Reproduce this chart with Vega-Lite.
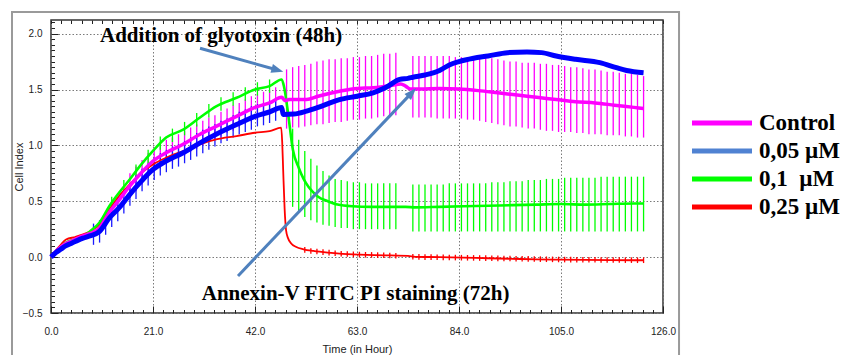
{
"$schema": "https://vega.github.io/schema/vega-lite/v6.json",
"width": 612, "height": 293,
"autosize": {"type": "none"},
"padding": {"left": 51, "top": 20, "right": 191, "bottom": 42},
"background": "white",
"config": {
  "view": {"stroke": "#333", "strokeWidth": 1.5},
  "axis": {"labelFont": "Liberation Sans", "titleFont": "Liberation Sans", "labelColor": "#222", "titleColor": "#222", "titleFontWeight": "normal", "labelFontSize": 10, "titleFontSize": 11, "tickColor": "#222", "tickWidth": 1}
},
"datasets": {
"one": [{}],
"lines": [
{"s":"Control","t":0,"v":0},{"s":"Control","t":1,"v":0.05},{"s":"Control","t":2,"v":0.09},{"s":"Control","t":3,"v":0.12},{"s":"Control","t":4,"v":0.14},{"s":"Control","t":5,"v":0.16},{"s":"Control","t":6.6,"v":0.19},{"s":"Control","t":8,"v":0.21},{"s":"Control","t":10,"v":0.26},{"s":"Control","t":12,"v":0.40},{"s":"Control","t":14,"v":0.51},{"s":"Control","t":16.2,"v":0.635},{"s":"Control","t":18.6,"v":0.755},{"s":"Control","t":21,"v":0.86},{"s":"Control","t":23.7,"v":0.934},{"s":"Control","t":27.2,"v":1.01},{"s":"Control","t":30.6,"v":1.098},{"s":"Control","t":34,"v":1.17},{"s":"Control","t":38.2,"v":1.26},{"s":"Control","t":42,"v":1.34},{"s":"Control","t":45,"v":1.38},{"s":"Control","t":47.5,"v":1.43},{"s":"Control","t":48.2,"v":1.40},{"s":"Control","t":49,"v":1.41},{"s":"Control","t":50,"v":1.41},{"s":"Control","t":52.6,"v":1.41},{"s":"Control","t":55,"v":1.44},{"s":"Control","t":59.4,"v":1.485},{"s":"Control","t":63,"v":1.51},{"s":"Control","t":66.3,"v":1.515},{"s":"Control","t":70,"v":1.535},{"s":"Control","t":72,"v":1.55},{"s":"Control","t":73,"v":1.53},{"s":"Control","t":74,"v":1.505},{"s":"Control","t":76,"v":1.505},{"s":"Control","t":80,"v":1.51},{"s":"Control","t":84,"v":1.505},{"s":"Control","t":88,"v":1.49},{"s":"Control","t":92,"v":1.47},{"s":"Control","t":96,"v":1.45},{"s":"Control","t":100,"v":1.43},{"s":"Control","t":104,"v":1.41},{"s":"Control","t":108,"v":1.39},{"s":"Control","t":112,"v":1.38},{"s":"Control","t":116,"v":1.36},{"s":"Control","t":120,"v":1.34},{"s":"Control","t":122,"v":1.33},
{"s":"0,05 µM","t":0,"v":0},{"s":"0,05 µM","t":1,"v":0.04},{"s":"0,05 µM","t":2,"v":0.07},{"s":"0,05 µM","t":3,"v":0.10},{"s":"0,05 µM","t":4,"v":0.12},{"s":"0,05 µM","t":5,"v":0.14},{"s":"0,05 µM","t":6.6,"v":0.17},{"s":"0,05 µM","t":8,"v":0.19},{"s":"0,05 µM","t":10,"v":0.23},{"s":"0,05 µM","t":12,"v":0.35},{"s":"0,05 µM","t":14,"v":0.44},{"s":"0,05 µM","t":16.2,"v":0.56},{"s":"0,05 µM","t":18.6,"v":0.68},{"s":"0,05 µM","t":21,"v":0.785},{"s":"0,05 µM","t":23.7,"v":0.86},{"s":"0,05 µM","t":27.2,"v":0.934},{"s":"0,05 µM","t":30.6,"v":1.02},{"s":"0,05 µM","t":34,"v":1.10},{"s":"0,05 µM","t":38.2,"v":1.187},{"s":"0,05 µM","t":42,"v":1.26},{"s":"0,05 µM","t":45,"v":1.30},{"s":"0,05 µM","t":47.5,"v":1.34},{"s":"0,05 µM","t":47.8,"v":1.277},{"s":"0,05 µM","t":50,"v":1.28},{"s":"0,05 µM","t":52.6,"v":1.306},{"s":"0,05 µM","t":55,"v":1.34},{"s":"0,05 µM","t":59.4,"v":1.41},{"s":"0,05 µM","t":63,"v":1.44},{"s":"0,05 µM","t":66.3,"v":1.47},{"s":"0,05 µM","t":69,"v":1.52},{"s":"0,05 µM","t":71.8,"v":1.59},{"s":"0,05 µM","t":73.5,"v":1.60},{"s":"0,05 µM","t":74.5,"v":1.61},{"s":"0,05 µM","t":77,"v":1.63},{"s":"0,05 µM","t":80,"v":1.67},{"s":"0,05 µM","t":82,"v":1.72},{"s":"0,05 µM","t":84,"v":1.75},{"s":"0,05 µM","t":87,"v":1.78},{"s":"0,05 µM","t":90,"v":1.80},{"s":"0,05 µM","t":94,"v":1.83},{"s":"0,05 µM","t":98,"v":1.835},{"s":"0,05 µM","t":101,"v":1.83},{"s":"0,05 µM","t":104,"v":1.80},{"s":"0,05 µM","t":108,"v":1.77},{"s":"0,05 µM","t":113,"v":1.74},{"s":"0,05 µM","t":116.4,"v":1.695},{"s":"0,05 µM","t":118.5,"v":1.67},{"s":"0,05 µM","t":122,"v":1.65},
{"s":"0,1 µM","t":0,"v":0},{"s":"0,1 µM","t":1,"v":0.05},{"s":"0,1 µM","t":2,"v":0.09},{"s":"0,1 µM","t":3.1,"v":0.13},{"s":"0,1 µM","t":5,"v":0.16},{"s":"0,1 µM","t":6.6,"v":0.18},{"s":"0,1 µM","t":8,"v":0.23},{"s":"0,1 µM","t":10,"v":0.31},{"s":"0,1 µM","t":12,"v":0.456},{"s":"0,1 µM","t":14,"v":0.576},{"s":"0,1 µM","t":16.2,"v":0.695},{"s":"0,1 µM","t":18.6,"v":0.83},{"s":"0,1 µM","t":21,"v":0.95},{"s":"0,1 µM","t":23.7,"v":1.07},{"s":"0,1 µM","t":27.2,"v":1.14},{"s":"0,1 µM","t":30.6,"v":1.247},{"s":"0,1 µM","t":34,"v":1.35},{"s":"0,1 µM","t":38.2,"v":1.426},{"s":"0,1 µM","t":42,"v":1.50},{"s":"0,1 µM","t":45,"v":1.53},{"s":"0,1 µM","t":47.5,"v":1.59},{"s":"0,1 µM","t":48,"v":1.52},{"s":"0,1 µM","t":48.8,"v":1.29},{"s":"0,1 µM","t":49.8,"v":0.96},{"s":"0,1 µM","t":51,"v":0.80},{"s":"0,1 µM","t":52,"v":0.70},{"s":"0,1 µM","t":53,"v":0.63},{"s":"0,1 µM","t":54,"v":0.58},{"s":"0,1 µM","t":55,"v":0.54},{"s":"0,1 µM","t":57,"v":0.50},{"s":"0,1 µM","t":59,"v":0.47},{"s":"0,1 µM","t":62,"v":0.455},{"s":"0,1 µM","t":66,"v":0.45},{"s":"0,1 µM","t":73,"v":0.45},{"s":"0,1 µM","t":75,"v":0.445},{"s":"0,1 µM","t":80,"v":0.45},{"s":"0,1 µM","t":85,"v":0.455},{"s":"0,1 µM","t":90,"v":0.46},{"s":"0,1 µM","t":95,"v":0.465},{"s":"0,1 µM","t":100,"v":0.47},{"s":"0,1 µM","t":105,"v":0.475},{"s":"0,1 µM","t":110,"v":0.47},{"s":"0,1 µM","t":115,"v":0.475},{"s":"0,1 µM","t":120,"v":0.48},{"s":"0,1 µM","t":122,"v":0.48},
{"s":"0,25 µM","t":0,"v":0},{"s":"0,25 µM","t":1,"v":0.06},{"s":"0,25 µM","t":2,"v":0.11},{"s":"0,25 µM","t":3.1,"v":0.158},{"s":"0,25 µM","t":5,"v":0.18},{"s":"0,25 µM","t":6.6,"v":0.203},{"s":"0,25 µM","t":8,"v":0.23},{"s":"0,25 µM","t":10,"v":0.29},{"s":"0,25 µM","t":12,"v":0.427},{"s":"0,25 µM","t":14,"v":0.546},{"s":"0,25 µM","t":16.2,"v":0.65},{"s":"0,25 µM","t":18.6,"v":0.755},{"s":"0,25 µM","t":21,"v":0.83},{"s":"0,25 µM","t":23.7,"v":0.89},{"s":"0,25 µM","t":27.2,"v":0.95},{"s":"0,25 µM","t":30.6,"v":1.008},{"s":"0,25 µM","t":34,"v":1.053},{"s":"0,25 µM","t":38.2,"v":1.083},{"s":"0,25 µM","t":42,"v":1.113},{"s":"0,25 µM","t":45,"v":1.127},{"s":"0,25 µM","t":47.4,"v":1.158},{"s":"0,25 µM","t":47.6,"v":1.03},{"s":"0,25 µM","t":47.8,"v":0.78},{"s":"0,25 µM","t":48.1,"v":0.43},{"s":"0,25 µM","t":48.4,"v":0.24},{"s":"0,25 µM","t":48.8,"v":0.17},{"s":"0,25 µM","t":49.5,"v":0.12},{"s":"0,25 µM","t":50.5,"v":0.09},{"s":"0,25 µM","t":52,"v":0.07},{"s":"0,25 µM","t":54,"v":0.055},{"s":"0,25 µM","t":57,"v":0.04},{"s":"0,25 µM","t":60,"v":0.03},{"s":"0,25 µM","t":65,"v":0.02},{"s":"0,25 µM","t":70,"v":0.015},{"s":"0,25 µM","t":73.5,"v":0.012},{"s":"0,25 µM","t":75,"v":0.003},{"s":"0,25 µM","t":80,"v":0},{"s":"0,25 µM","t":85,"v":-0.005},{"s":"0,25 µM","t":90,"v":-0.01},{"s":"0,25 µM","t":95,"v":-0.015},{"s":"0,25 µM","t":100,"v":-0.02},{"s":"0,25 µM","t":105,"v":-0.022},{"s":"0,25 µM","t":110,"v":-0.025},{"s":"0,25 µM","t":115,"v":-0.027},{"s":"0,25 µM","t":120,"v":-0.028},{"s":"0,25 µM","t":122,"v":-0.028}
],
"err": [
{"s":"Control","t":16.25,"lo":0.53,"hi":0.75},{"s":"Control","t":17.5,"lo":0.59,"hi":0.81},{"s":"Control","t":18.75,"lo":0.65,"hi":0.87},{"s":"Control","t":20,"lo":0.71,"hi":0.93},{"s":"Control","t":21.25,"lo":0.76,"hi":0.98},{"s":"Control","t":22.5,"lo":0.79,"hi":1.01},{"s":"Control","t":23.75,"lo":0.83,"hi":1.05},{"s":"Control","t":25,"lo":0.85,"hi":1.07},{"s":"Control","t":26.25,"lo":0.88,"hi":1.10},{"s":"Control","t":27.5,"lo":0.91,"hi":1.13},{"s":"Control","t":28.75,"lo":0.94,"hi":1.16},{"s":"Control","t":30,"lo":0.97,"hi":1.19},{"s":"Control","t":31.25,"lo":1.00,"hi":1.22},{"s":"Control","t":32.5,"lo":1.03,"hi":1.25},{"s":"Control","t":33.75,"lo":1.05,"hi":1.27},{"s":"Control","t":35,"lo":1.08,"hi":1.30},{"s":"Control","t":36.25,"lo":1.11,"hi":1.33},{"s":"Control","t":37.5,"lo":1.13,"hi":1.36},{"s":"Control","t":38.75,"lo":1.16,"hi":1.38},{"s":"Control","t":40,"lo":1.19,"hi":1.41},{"s":"Control","t":41.25,"lo":1.21,"hi":1.44},{"s":"Control","t":42.5,"lo":1.23,"hi":1.46},{"s":"Control","t":43.75,"lo":1.25,"hi":1.48},{"s":"Control","t":45,"lo":1.27,"hi":1.49},{"s":"Control","t":46.25,"lo":1.29,"hi":1.52},
{"s":"Control","t":48.5,"lo":1.15,"hi":1.68},{"s":"Control","t":49.75,"lo":1.16,"hi":1.70},{"s":"Control","t":51,"lo":1.16,"hi":1.71},{"s":"Control","t":52.25,"lo":1.17,"hi":1.72},{"s":"Control","t":53.5,"lo":1.18,"hi":1.73},{"s":"Control","t":54.75,"lo":1.19,"hi":1.75},{"s":"Control","t":56,"lo":1.19,"hi":1.76},{"s":"Control","t":57.25,"lo":1.20,"hi":1.77},{"s":"Control","t":58.5,"lo":1.21,"hi":1.77},{"s":"Control","t":59.75,"lo":1.21,"hi":1.78},{"s":"Control","t":61,"lo":1.22,"hi":1.78},{"s":"Control","t":62.25,"lo":1.23,"hi":1.79},{"s":"Control","t":63.5,"lo":1.23,"hi":1.79},{"s":"Control","t":64.75,"lo":1.24,"hi":1.80},{"s":"Control","t":66,"lo":1.24,"hi":1.80},{"s":"Control","t":67.25,"lo":1.25,"hi":1.81},{"s":"Control","t":68.5,"lo":1.26,"hi":1.82},{"s":"Control","t":69.75,"lo":1.26,"hi":1.82},{"s":"Control","t":71,"lo":1.27,"hi":1.83},
{"s":"Control","t":74.5,"lo":1.25,"hi":1.80},{"s":"Control","t":75.75,"lo":1.25,"hi":1.80},{"s":"Control","t":77,"lo":1.25,"hi":1.80},{"s":"Control","t":78.25,"lo":1.25,"hi":1.80},{"s":"Control","t":79.5,"lo":1.24,"hi":1.80},{"s":"Control","t":80.75,"lo":1.24,"hi":1.80},{"s":"Control","t":82,"lo":1.24,"hi":1.80},{"s":"Control","t":83.25,"lo":1.24,"hi":1.79},{"s":"Control","t":84.5,"lo":1.24,"hi":1.79},{"s":"Control","t":85.75,"lo":1.23,"hi":1.79},{"s":"Control","t":87,"lo":1.23,"hi":1.79},{"s":"Control","t":88.25,"lo":1.22,"hi":1.79},{"s":"Control","t":89.5,"lo":1.21,"hi":1.78},{"s":"Control","t":90.75,"lo":1.20,"hi":1.78},{"s":"Control","t":92,"lo":1.19,"hi":1.77},{"s":"Control","t":93.25,"lo":1.18,"hi":1.76},{"s":"Control","t":94.5,"lo":1.17,"hi":1.75},{"s":"Control","t":95.75,"lo":1.17,"hi":1.75},{"s":"Control","t":97,"lo":1.16,"hi":1.74},{"s":"Control","t":98.25,"lo":1.15,"hi":1.74},{"s":"Control","t":99.5,"lo":1.15,"hi":1.74},{"s":"Control","t":100.75,"lo":1.14,"hi":1.73},{"s":"Control","t":102,"lo":1.13,"hi":1.73},{"s":"Control","t":103.25,"lo":1.13,"hi":1.72},{"s":"Control","t":104.5,"lo":1.12,"hi":1.72},{"s":"Control","t":105.75,"lo":1.12,"hi":1.71},{"s":"Control","t":107,"lo":1.12,"hi":1.70},{"s":"Control","t":108.25,"lo":1.11,"hi":1.70},{"s":"Control","t":109.5,"lo":1.11,"hi":1.69},{"s":"Control","t":110.75,"lo":1.10,"hi":1.68},{"s":"Control","t":112,"lo":1.10,"hi":1.68},{"s":"Control","t":113.25,"lo":1.10,"hi":1.67},{"s":"Control","t":114.5,"lo":1.09,"hi":1.66},{"s":"Control","t":115.75,"lo":1.09,"hi":1.66},{"s":"Control","t":117,"lo":1.09,"hi":1.65},{"s":"Control","t":118.25,"lo":1.08,"hi":1.64},{"s":"Control","t":119.5,"lo":1.08,"hi":1.64},{"s":"Control","t":120.75,"lo":1.07,"hi":1.63},{"s":"Control","t":122,"lo":1.07,"hi":1.62},
{"s":"0,05 µM","t":8.75,"lo":0.11,"hi":0.30},{"s":"0,05 µM","t":10,"lo":0.13,"hi":0.33},{"s":"0,05 µM","t":11.25,"lo":0.20,"hi":0.40},{"s":"0,05 µM","t":12.5,"lo":0.27,"hi":0.47},{"s":"0,05 µM","t":13.75,"lo":0.32,"hi":0.53},{"s":"0,05 µM","t":15,"lo":0.39,"hi":0.59},{"s":"0,05 µM","t":16.25,"lo":0.46,"hi":0.66},{"s":"0,05 µM","t":17.5,"lo":0.52,"hi":0.73},{"s":"0,05 µM","t":18.75,"lo":0.59,"hi":0.79},{"s":"0,05 µM","t":20,"lo":0.64,"hi":0.84},{"s":"0,05 µM","t":21.25,"lo":0.69,"hi":0.89},{"s":"0,05 µM","t":22.5,"lo":0.73,"hi":0.93},{"s":"0,05 µM","t":23.75,"lo":0.76,"hi":0.96},{"s":"0,05 µM","t":25,"lo":0.79,"hi":0.99},{"s":"0,05 µM","t":26.25,"lo":0.81,"hi":1.01},{"s":"0,05 µM","t":27.5,"lo":0.84,"hi":1.04},{"s":"0,05 µM","t":28.75,"lo":0.87,"hi":1.07},{"s":"0,05 µM","t":30,"lo":0.90,"hi":1.11},{"s":"0,05 µM","t":31.25,"lo":0.93,"hi":1.14},{"s":"0,05 µM","t":32.5,"lo":0.96,"hi":1.17},{"s":"0,05 µM","t":33.75,"lo":0.99,"hi":1.19},{"s":"0,05 µM","t":35,"lo":1.02,"hi":1.22},{"s":"0,05 µM","t":36.25,"lo":1.04,"hi":1.24},{"s":"0,05 µM","t":37.5,"lo":1.07,"hi":1.27},{"s":"0,05 µM","t":38.75,"lo":1.10,"hi":1.30},{"s":"0,05 µM","t":40,"lo":1.12,"hi":1.32},{"s":"0,05 µM","t":41.25,"lo":1.14,"hi":1.35},{"s":"0,05 µM","t":42.5,"lo":1.17,"hi":1.37},{"s":"0,05 µM","t":43.75,"lo":1.18,"hi":1.38},{"s":"0,05 µM","t":45,"lo":1.20,"hi":1.40},{"s":"0,05 µM","t":46.25,"lo":1.22,"hi":1.42},
{"s":"0,1 µM","t":12.5,"lo":0.42,"hi":0.54},{"s":"0,1 µM","t":15,"lo":0.57,"hi":0.69},{"s":"0,1 µM","t":17.5,"lo":0.71,"hi":0.83},{"s":"0,1 µM","t":20,"lo":0.84,"hi":0.96},{"s":"0,1 µM","t":22.5,"lo":0.96,"hi":1.08},{"s":"0,1 µM","t":25,"lo":1.03,"hi":1.15},{"s":"0,1 µM","t":27.5,"lo":1.09,"hi":1.21},{"s":"0,1 µM","t":30,"lo":1.17,"hi":1.29},{"s":"0,1 µM","t":32.5,"lo":1.25,"hi":1.37},{"s":"0,1 µM","t":35,"lo":1.31,"hi":1.43},{"s":"0,1 µM","t":37.5,"lo":1.355,"hi":1.475},{"s":"0,1 µM","t":40,"lo":1.40,"hi":1.52},{"s":"0,1 µM","t":42.5,"lo":1.445,"hi":1.565},{"s":"0,1 µM","t":45,"lo":1.47,"hi":1.59},
{"s":"0,1 µM","t":49.75,"lo":0.45,"hi":1.15},{"s":"0,1 µM","t":51,"lo":0.40,"hi":1.05},{"s":"0,1 µM","t":52.25,"lo":0.36,"hi":0.95},{"s":"0,1 µM","t":53.5,"lo":0.33,"hi":0.88},{"s":"0,1 µM","t":54.75,"lo":0.31,"hi":0.82},{"s":"0,1 µM","t":56,"lo":0.29,"hi":0.77},{"s":"0,1 µM","t":57.25,"lo":0.28,"hi":0.73},{"s":"0,1 µM","t":58.5,"lo":0.27,"hi":0.70},{"s":"0,1 µM","t":59.75,"lo":0.26,"hi":0.69},{"s":"0,1 µM","t":61,"lo":0.26,"hi":0.68},{"s":"0,1 µM","t":62.25,"lo":0.25,"hi":0.67},{"s":"0,1 µM","t":63.5,"lo":0.25,"hi":0.67},{"s":"0,1 µM","t":64.75,"lo":0.25,"hi":0.66},{"s":"0,1 µM","t":66,"lo":0.25,"hi":0.66},{"s":"0,1 µM","t":67.25,"lo":0.25,"hi":0.66},{"s":"0,1 µM","t":68.5,"lo":0.25,"hi":0.66},{"s":"0,1 µM","t":69.75,"lo":0.25,"hi":0.66},{"s":"0,1 µM","t":71,"lo":0.25,"hi":0.66},
{"s":"0,1 µM","t":74.5,"lo":0.23,"hi":0.65},{"s":"0,1 µM","t":75.75,"lo":0.23,"hi":0.65},{"s":"0,1 µM","t":77,"lo":0.23,"hi":0.65},{"s":"0,1 µM","t":78.25,"lo":0.23,"hi":0.65},{"s":"0,1 µM","t":79.5,"lo":0.23,"hi":0.65},{"s":"0,1 µM","t":80.75,"lo":0.23,"hi":0.65},{"s":"0,1 µM","t":82,"lo":0.23,"hi":0.66},{"s":"0,1 µM","t":83.25,"lo":0.23,"hi":0.66},{"s":"0,1 µM","t":84.5,"lo":0.23,"hi":0.66},{"s":"0,1 µM","t":85.75,"lo":0.23,"hi":0.66},{"s":"0,1 µM","t":87,"lo":0.23,"hi":0.66},{"s":"0,1 µM","t":88.25,"lo":0.23,"hi":0.66},{"s":"0,1 µM","t":89.5,"lo":0.23,"hi":0.66},{"s":"0,1 µM","t":90.75,"lo":0.23,"hi":0.67},{"s":"0,1 µM","t":92,"lo":0.23,"hi":0.67},{"s":"0,1 µM","t":93.25,"lo":0.23,"hi":0.67},{"s":"0,1 µM","t":94.5,"lo":0.23,"hi":0.68},{"s":"0,1 µM","t":95.75,"lo":0.23,"hi":0.68},{"s":"0,1 µM","t":97,"lo":0.23,"hi":0.68},{"s":"0,1 µM","t":98.25,"lo":0.23,"hi":0.69},{"s":"0,1 µM","t":99.5,"lo":0.23,"hi":0.69},{"s":"0,1 µM","t":100.75,"lo":0.23,"hi":0.69},{"s":"0,1 µM","t":102,"lo":0.23,"hi":0.70},{"s":"0,1 µM","t":103.25,"lo":0.23,"hi":0.70},{"s":"0,1 µM","t":104.5,"lo":0.23,"hi":0.70},{"s":"0,1 µM","t":105.75,"lo":0.23,"hi":0.71},{"s":"0,1 µM","t":107,"lo":0.23,"hi":0.71},{"s":"0,1 µM","t":108.25,"lo":0.23,"hi":0.71},{"s":"0,1 µM","t":109.5,"lo":0.23,"hi":0.71},{"s":"0,1 µM","t":110.75,"lo":0.23,"hi":0.71},{"s":"0,1 µM","t":112,"lo":0.23,"hi":0.71},{"s":"0,1 µM","t":113.25,"lo":0.23,"hi":0.72},{"s":"0,1 µM","t":114.5,"lo":0.23,"hi":0.72},{"s":"0,1 µM","t":115.75,"lo":0.23,"hi":0.72},{"s":"0,1 µM","t":117,"lo":0.23,"hi":0.72},{"s":"0,1 µM","t":118.25,"lo":0.23,"hi":0.72},{"s":"0,1 µM","t":119.5,"lo":0.23,"hi":0.72},{"s":"0,1 µM","t":120.75,"lo":0.23,"hi":0.72},{"s":"0,1 µM","t":122,"lo":0.23,"hi":0.72},
{"s":"0,25 µM","t":52.25,"lo":0.04,"hi":0.09},{"s":"0,25 µM","t":53.5,"lo":0.03,"hi":0.08},{"s":"0,25 µM","t":54.75,"lo":0.025,"hi":0.075},{"s":"0,25 µM","t":56,"lo":0.02,"hi":0.07},{"s":"0,25 µM","t":57.25,"lo":0.015,"hi":0.065},{"s":"0,25 µM","t":58.5,"lo":0.01,"hi":0.06},{"s":"0,25 µM","t":59.75,"lo":0.005,"hi":0.055},{"s":"0,25 µM","t":61,"lo":0.003,"hi":0.053},{"s":"0,25 µM","t":62.25,"lo":0,"hi":0.05},{"s":"0,25 µM","t":63.5,"lo":-0.002,"hi":0.048},{"s":"0,25 µM","t":64.75,"lo":-0.004,"hi":0.046},{"s":"0,25 µM","t":66,"lo":-0.005,"hi":0.045},{"s":"0,25 µM","t":67.25,"lo":-0.007,"hi":0.043},{"s":"0,25 µM","t":68.5,"lo":-0.008,"hi":0.042},{"s":"0,25 µM","t":69.75,"lo":-0.01,"hi":0.04},{"s":"0,25 µM","t":71,"lo":-0.012,"hi":0.038},
{"s":"0,25 µM","t":74.5,"lo":-0.021,"hi":0.029},{"s":"0,25 µM","t":75.75,"lo":-0.023,"hi":0.027},{"s":"0,25 µM","t":77,"lo":-0.025,"hi":0.025},{"s":"0,25 µM","t":78.25,"lo":-0.025,"hi":0.025},{"s":"0,25 µM","t":79.5,"lo":-0.026,"hi":0.024},{"s":"0,25 µM","t":80.75,"lo":-0.027,"hi":0.023},{"s":"0,25 µM","t":82,"lo":-0.028,"hi":0.022},{"s":"0,25 µM","t":83.25,"lo":-0.029,"hi":0.021},{"s":"0,25 µM","t":84.5,"lo":-0.03,"hi":0.02},{"s":"0,25 µM","t":85.75,"lo":-0.031,"hi":0.019},{"s":"0,25 µM","t":87,"lo":-0.032,"hi":0.018},{"s":"0,25 µM","t":88.25,"lo":-0.033,"hi":0.017},{"s":"0,25 µM","t":89.5,"lo":-0.034,"hi":0.016},{"s":"0,25 µM","t":90.75,"lo":-0.035,"hi":0.015},{"s":"0,25 µM","t":92,"lo":-0.036,"hi":0.014},{"s":"0,25 µM","t":93.25,"lo":-0.037,"hi":0.013},{"s":"0,25 µM","t":94.5,"lo":-0.038,"hi":0.012},{"s":"0,25 µM","t":95.75,"lo":-0.039,"hi":0.011},{"s":"0,25 µM","t":97,"lo":-0.04,"hi":0.01},{"s":"0,25 µM","t":98.25,"lo":-0.041,"hi":0.009},{"s":"0,25 µM","t":99.5,"lo":-0.042,"hi":0.008},{"s":"0,25 µM","t":100.75,"lo":-0.043,"hi":0.007},{"s":"0,25 µM","t":102,"lo":-0.044,"hi":0.006},{"s":"0,25 µM","t":103.25,"lo":-0.045,"hi":0.005},{"s":"0,25 µM","t":104.5,"lo":-0.046,"hi":0.004},{"s":"0,25 µM","t":105.75,"lo":-0.047,"hi":0.003},{"s":"0,25 µM","t":107,"lo":-0.047,"hi":0.003},{"s":"0,25 µM","t":108.25,"lo":-0.048,"hi":0.002},{"s":"0,25 µM","t":109.5,"lo":-0.048,"hi":0.002},{"s":"0,25 µM","t":110.75,"lo":-0.049,"hi":0.001},{"s":"0,25 µM","t":112,"lo":-0.049,"hi":0.001},{"s":"0,25 µM","t":113.25,"lo":-0.05,"hi":0},{"s":"0,25 µM","t":114.5,"lo":-0.05,"hi":0},{"s":"0,25 µM","t":115.75,"lo":-0.051,"hi":-0.001},{"s":"0,25 µM","t":117,"lo":-0.051,"hi":-0.001},{"s":"0,25 µM","t":118.25,"lo":-0.052,"hi":-0.002},{"s":"0,25 µM","t":119.5,"lo":-0.052,"hi":-0.002},{"s":"0,25 µM","t":120.75,"lo":-0.053,"hi":-0.003},{"s":"0,25 µM","t":122,"lo":-0.053,"hi":-0.003}
]
},
"layer": [
{
 "data": {"name": "one"},
 "mark": {"type": "rect", "fill": "transparent", "stroke": "#9a9a9a", "strokeWidth": 2, "clip": false},
 "encoding": {
  "x": {"datum": -8.03, "type": "quantitative", "scale": {"domain": [0, 126], "nice": false, "zero": false}, "axis": null},
  "x2": {"datum": 129.3},
  "y": {"datum": 2.194, "type": "quantitative", "scale": {"domain": [-0.5, 2.122], "nice": false, "zero": false}, "axis": null},
  "y2": {"datum": -0.92}
 }
},
{
 "data": {"name": "err"},
 "transform": [{"filter": "datum.s !== '0,05 µM'"}],
 "mark": {"type": "rule", "strokeWidth": 1.3},
 "encoding": {
  "x": {"field": "t", "type": "quantitative", "scale": {"domain": [0, 126], "nice": false, "zero": false},
        "axis": {"orient": "bottom", "values": [0,2.1,4.2,6.3,8.4,10.5,12.6,14.7,16.8,18.9,21,23.1,25.2,27.3,29.4,31.5,33.6,35.7,37.8,39.9,42,44.1,46.2,48.3,50.4,52.5,54.6,56.7,58.8,60.9,63,65.1,67.2,69.3,71.4,73.5,75.6,77.7,79.8,81.9,84,86.1,88.2,90.3,92.4,94.5,96.6,98.7,100.8,102.9,105,107.1,109.2,111.3,113.4,115.5,117.6,119.7,121.8,123.9,126],
                 "labelExpr": "abs(datum.value / 21 - round(datum.value / 21)) < 0.001 ? format(datum.value, '.1f') : ''",
                 "grid": true, "gridColor": "#7a7a7a", "gridDash": [1.5, 2], "gridWidth": 1,
                 "gridOpacity": {"condition": {"test": "abs(datum.value / 21 - round(datum.value / 21)) < 0.001", "value": 1}, "value": 0},
                 "ticks": true, "tickSize": {"condition": {"test": "abs(datum.value / 21 - round(datum.value / 21)) < 0.001", "value": -7}, "value": -3.5},
                 "domain": false, "labelPadding": 20, "labelDx": -4, "labelFlush": false, "labelOverlap": false, "title": "Time (in Hour)", "titlePadding": 4}},
  "y": {"field": "lo", "type": "quantitative", "scale": {"domain": [-0.5, 2.122], "nice": false, "zero": false},
        "axis": {"orient": "left", "values": [-0.5,-0.45,-0.4,-0.35,-0.3,-0.25,-0.2,-0.15,-0.1,-0.05,0,0.05,0.1,0.15,0.2,0.25,0.3,0.35,0.4,0.45,0.5,0.55,0.6,0.65,0.7,0.75,0.8,0.85,0.9,0.95,1,1.05,1.1,1.15,1.2,1.25,1.3,1.35,1.4,1.45,1.5,1.55,1.6,1.65,1.7,1.75,1.8,1.85,1.9,1.95,2,2.05,2.1],
                 "labelExpr": "abs(datum.value * 2 - round(datum.value * 2)) < 0.001 ? format(datum.value, '.1f') : ''",
                 "grid": true, "gridColor": "#7a7a7a", "gridDash": [1.5, 2], "gridWidth": 1,
                 "gridOpacity": {"condition": {"test": "abs(datum.value * 2 - round(datum.value * 2)) < 0.001", "value": 1}, "value": 0},
                 "ticks": true, "tickSize": {"condition": {"test": "abs(datum.value * 2 - round(datum.value * 2)) < 0.001", "value": -7}, "value": -3.5},
                 "domain": false, "labelPadding": 16, "labelOverlap": false, "title": "Cell Index", "titlePadding": -2}},
  "y2": {"field": "hi"},
  "color": {"field": "s", "type": "nominal", "scale": {"domain": ["Control", "0,05 µM", "0,1 µM", "0,25 µM"], "range": ["#ff00ff", "#5082d2", "#00ff00", "#ff0000"]}}
 }
},
{
 "data": {"name": "err"},
 "transform": [{"filter": "datum.s === '0,05 µM'"}],
 "mark": {"type": "rule", "strokeWidth": 1.3, "color": "#1a1aff"},
 "encoding": {
  "x": {"field": "t", "type": "quantitative", "scale": {"domain": [0, 126], "nice": false, "zero": false}, "axis": null},
  "y": {"field": "lo", "type": "quantitative", "scale": {"domain": [-0.5, 2.122], "nice": false, "zero": false}, "axis": null},
  "y2": {"field": "hi"}
 }
},
{
 "data": {"name": "lines"},
 "transform": [{"filter": "datum.s === '0,25 µM'"}],
 "mark": {"type": "line", "strokeWidth": 1.8, "interpolate": "monotone"},
 "encoding": {
  "x": {"field": "t", "type": "quantitative", "scale": {"domain": [0, 126], "nice": false, "zero": false}, "axis": null},
  "y": {"field": "v", "type": "quantitative", "scale": {"domain": [-0.5, 2.122], "nice": false, "zero": false}, "axis": null},
  "color": {"field": "s", "type": "nominal", "scale": {"domain": ["Control", "0,05 µM", "0,1 µM", "0,25 µM"], "range": ["#ff00ff", "#5082d2", "#00ff00", "#ff0000"]},
   "legend": {"orient": "none", "legendX": 641, "legendY": 90.5, "title": null, "padding": 0, "symbolType": "M-3,0H3", "symbolSize": 400, "symbolStrokeWidth": 5, "symbolOffset": 17.5, "labelOffset": 24.5, "labelFont": "Liberation Serif", "labelFontWeight": "bold", "labelFontSize": 23, "labelColor": "black", "rowPadding": 3, "labelLimit": 300,
     "labelExpr": "datum.label === 'Control' ? '\u00a0Control' : datum.label === '0,1 µM' ? '0,1\u00a0 µM' : datum.label"}}
 }
},
{
 "data": {"name": "lines"},
 "transform": [{"filter": "datum.s === '0,1 µM'"}],
 "mark": {"type": "line", "strokeWidth": 2.6, "interpolate": "monotone"},
 "encoding": {
  "x": {"field": "t", "type": "quantitative", "scale": {"domain": [0, 126], "nice": false, "zero": false}, "axis": null},
  "y": {"field": "v", "type": "quantitative", "scale": {"domain": [-0.5, 2.122], "nice": false, "zero": false}, "axis": null},
  "color": {"field": "s", "type": "nominal", "scale": {"domain": ["Control", "0,05 µM", "0,1 µM", "0,25 µM"], "range": ["#ff00ff", "#5082d2", "#00ff00", "#ff0000"]}}
 }
},
{
 "data": {"name": "lines"},
 "transform": [{"filter": "datum.s === 'Control'"}],
 "mark": {"type": "line", "strokeWidth": 3.5, "interpolate": "monotone"},
 "encoding": {
  "x": {"field": "t", "type": "quantitative", "scale": {"domain": [0, 126], "nice": false, "zero": false}, "axis": null},
  "y": {"field": "v", "type": "quantitative", "scale": {"domain": [-0.5, 2.122], "nice": false, "zero": false}, "axis": null},
  "color": {"field": "s", "type": "nominal", "scale": {"domain": ["Control", "0,05 µM", "0,1 µM", "0,25 µM"], "range": ["#ff00ff", "#5082d2", "#00ff00", "#ff0000"]}}
 }
},
{
 "data": {"name": "lines"},
 "transform": [{"filter": "datum.s === '0,05 µM'"}],
 "mark": {"type": "line", "strokeWidth": 5, "interpolate": "monotone", "color": "#0000ff"},
 "encoding": {
  "x": {"field": "t", "type": "quantitative", "scale": {"domain": [0, 126], "nice": false, "zero": false}, "axis": null},
  "y": {"field": "v", "type": "quantitative", "scale": {"domain": [-0.5, 2.122], "nice": false, "zero": false}, "axis": null}
 }
},
{
 "data": {"name": "one"},
 "mark": {"type": "rule", "stroke": "#4f81bd", "strokeWidth": 3},
 "encoding": {
  "x": {"datum": 30.68, "type": "quantitative", "scale": {"domain": [0, 126], "nice": false, "zero": false},
        "axis": {"orient": "top", "values": [0,2.1,4.2,6.3,8.4,10.5,12.6,14.7,16.8,18.9,21,23.1,25.2,27.3,29.4,31.5,33.6,35.7,37.8,39.9,42,44.1,46.2,48.3,50.4,52.5,54.6,56.7,58.8,60.9,63,65.1,67.2,69.3,71.4,73.5,75.6,77.7,79.8,81.9,84,86.1,88.2,90.3,92.4,94.5,96.6,98.7,100.8,102.9,105,107.1,109.2,111.3,113.4,115.5,117.6,119.7,121.8,123.9,126], "labels": false, "grid": false, "domain": false, "ticks": true, "tickSize": -3.5, "title": null}},
  "y": {"datum": 1.869, "type": "quantitative", "scale": {"domain": [-0.5, 2.122], "nice": false, "zero": false}, "axis": null},
  "x2": {"datum": 46.63},
  "y2": {"datum": 1.674}
 }
},
{
 "data": {"name": "one"},
 "mark": {"type": "rule", "stroke": "#4f81bd", "strokeWidth": 3},
 "encoding": {
  "x": {"datum": 38.5, "type": "quantitative", "scale": {"domain": [0, 126], "nice": false, "zero": false}, "axis": null},
  "y": {"datum": -0.169, "type": "quantitative", "scale": {"domain": [-0.5, 2.122], "nice": false, "zero": false}, "axis": null},
  "x2": {"datum": 74.3},
  "y2": {"datum": 1.472}
 }
},
{
 "data": {"name": "one"},
 "mark": {"type": "point", "shape": "M-1,-0.75L1,0L-1,0.75Z", "size": 144, "filled": true, "color": "#4f81bd", "opacity": 1, "angle": 15.7},
 "encoding": {
  "x": {"datum": 46.63, "type": "quantitative", "scale": {"domain": [0, 126], "nice": false, "zero": false}, "axis": null},
  "y": {"datum": 1.674, "type": "quantitative", "scale": {"domain": [-0.5, 2.122], "nice": false, "zero": false}, "axis": null}
 }
},
{
 "data": {"name": "one"},
 "mark": {"type": "point", "shape": "M-1,-0.75L1,0L-1,0.75Z", "size": 144, "filled": true, "color": "#4f81bd", "opacity": 1, "angle": 313.5},
 "encoding": {
  "x": {"datum": 74.3, "type": "quantitative", "scale": {"domain": [0, 126], "nice": false, "zero": false}, "axis": null},
  "y": {"datum": 1.472, "type": "quantitative", "scale": {"domain": [-0.5, 2.122], "nice": false, "zero": false}, "axis": null}
 }
},
{
 "data": {"name": "one"},
 "mark": {"type": "text", "text": "Addition of glyotoxin (48h)", "font": "Liberation Serif", "fontWeight": "bold", "fontSize": 21, "align": "left", "baseline": "alphabetic", "color": "black"},
 "encoding": {
  "x": {"datum": 10.09, "type": "quantitative", "scale": {"domain": [0, 126], "nice": false, "zero": false}, "axis": null},
  "y": {"datum": 1.928, "type": "quantitative", "scale": {"domain": [-0.5, 2.122], "nice": false, "zero": false}, "axis": null}
 }
},
{
 "data": {"name": "one"},
 "mark": {"type": "text", "text": "Annexin-V FITC PI staining (72h)", "font": "Liberation Serif", "fontWeight": "bold", "fontSize": 21, "align": "left", "baseline": "alphabetic", "color": "black"},
 "encoding": {
  "x": {"datum": 31.03, "type": "quantitative", "scale": {"domain": [0, 126], "nice": false, "zero": false}, "axis": null},
  "y": {"datum": -0.388, "type": "quantitative", "scale": {"domain": [-0.5, 2.122], "nice": false, "zero": false}, "axis": null}
 }
}
],
"resolve": {"axis": {"x": "independent", "y": "independent"}}
}
